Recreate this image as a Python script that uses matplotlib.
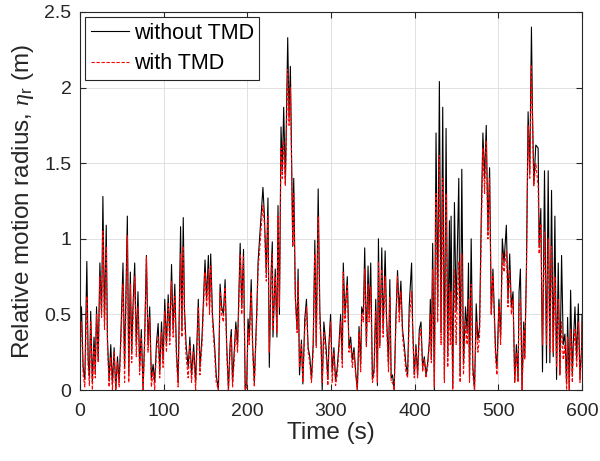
import matplotlib
matplotlib.use("Agg")
import matplotlib.pyplot as plt

plt.rcParams['font.family'] = ['Liberation Sans', 'DejaVu Sans']
plt.rcParams['mathtext.fontset'] = 'custom'
plt.rcParams['mathtext.it'] = 'Liberation Serif:italic'
plt.rcParams['mathtext.rm'] = 'Liberation Sans'

# time (s), read at local peaks / troughs of the trace
t_s = [0, 2, 4, 6, 8.4, 10, 11.5, 13, 15, 17, 18.5, 20, 22, 24, 26, 27.6, 29.5, 31.6, 33, 35,
       37, 39, 41, 43, 45, 47, 49, 51.6, 53.5, 56.8, 58.5, 60.4, 62, 63.5, 65.6, 67.5, 69.5, 71.5, 73.5, 75.6,
       77.5, 79.6, 81.5, 83.5, 85.5, 87.6, 89.5, 91.5, 93.6, 95.5, 97.6, 99.5, 101.5, 103.5, 105.6, 107.5, 109.6, 111.5, 113.5, 115.5,
       117.5, 120.4, 122, 123.6, 125, 127, 129.5, 131.5, 133.5, 136, 138.4, 141.6, 143.5, 146, 149.6, 151.5, 153.6, 155, 156.4, 158.5,
       161, 163, 165.6, 167.6, 169.5, 171.5, 173.6, 175.5, 177.6, 179.5, 181, 182.5, 184, 186.4, 188.5, 191.6, 193.5, 195.6, 197.6, 199.5,
       201, 202.5, 204.8, 206.5, 208.5, 211.6, 213, 214.8, 216.8, 218.8, 220.5, 222.8, 224.8, 226.4, 228.5, 230, 230.8, 233.5, 235.5, 236.8,
       238.5, 240.4, 242, 243.6, 245.6, 248.4, 250, 251.6, 253, 254.4, 255.6, 257.5, 259.6, 260.8, 262.5, 264.8, 266.5, 268.8, 270.8, 272.8,
       274.8, 276.8, 278.8, 280.8, 282.5, 284.8, 286.8, 288.4, 289.6, 291.6, 294.4, 296.4, 297.6, 299.6, 301.6, 303.6, 305.6, 307.6, 309.6, 311.6,
       313.6, 314.8, 316.8, 319.6, 321.6, 323.6, 325.6, 327.6, 329.6, 331.6, 333.6, 335.6, 336.8, 338.8, 340.4, 342.4, 344.4, 345.6, 347.6, 349.6,
       351.6, 353.6, 355.6, 356.8, 358.4, 360.8, 362.4, 364.8, 366.4, 368.8, 370.4, 372, 373.6, 375.6, 377.6, 379.6, 381.6, 383.6, 385.6, 387.6,
       389.6, 391.6, 393.6, 396.4, 397.6, 399.6, 401.6, 403.6, 405.6, 407.6, 409.6, 411.6, 413.6, 415.6, 417.6, 418.8, 420, 421.6, 423.6, 425.6,
       427.6, 429.6, 431.6, 433.6, 435.6, 437.6, 439.6, 441.6, 442.6, 443.6, 445.6, 447.6, 449.6, 451, 452.8, 454.4, 456.4, 458.4, 460.8, 462.8,
       464.4, 465.6, 467.6, 469.6, 471.6, 473.6, 475.6, 477.6, 479.6, 481.6, 483.6, 485.6, 487.6, 489.6, 491.6, 493.6, 495.6, 496.8, 498.4, 500.8,
       502.8, 504.8, 506.8, 509.6, 511.6, 513.6, 515.6, 517.6, 519.6, 521.6, 523.6, 524.8, 526.4, 528.4, 530.4, 531.6, 533.6, 535.6, 537.6, 539.6,
       540.8, 542.4, 544.8, 547.6, 548.8, 550.8, 552.8, 555.2, 557.6, 559.6, 561.6, 563.6, 565.6, 567.6, 569.6, 571.6, 573.6, 575.6, 577.6, 579.6,
       581.6, 582.8, 584.8, 586.4, 588.4, 589.6, 591.6, 593.6, 595.6, 597.6, 599.6, 600]

eta_without = [0.35, 0.55, 0.15, 0.07, 0.85, 0.20, 0.08, 0.52, 0.05, 0.35, 0.12, 0.55, 0.20, 0.84, 0.50, 1.28, 0.45, 1.09, 0.35, 0.06,
               0.30, 0.04, 0.28, 0.00, 0.22, 0.05, 0.35, 0.84, 0.15, 1.15, 0.10, 0.78, 0.25, 0.55, 0.84, 0.30, 0.65, 0.15, 0.40, 0.00,
               0.35, 0.89, 0.30, 0.55, 0.08, 0.17, 0.05, 0.30, 0.44, 0.12, 0.45, 0.20, 0.60, 0.30, 0.63, 0.35, 0.83, 0.40, 0.70, 0.25,
               0.05, 1.08, 0.40, 1.14, 0.55, 0.30, 0.15, 0.35, 0.10, 0.30, 0.05, 0.60, 0.15, 0.35, 0.86, 0.60, 0.89, 0.55, 0.90, 0.50,
               0.30, 0.10, 0.00, 0.70, 0.55, 0.50, 0.73, 0.30, 0.00, 0.30, 0.40, 0.05, 0.20, 0.45, 0.30, 0.97, 0.55, 0.93, 0.00, 0.05,
               0.47, 0.35, 0.73, 0.30, 0.05, 0.55, 0.85, 1.00, 1.16, 1.34, 1.16, 0.77, 1.27, 0.15, 0.77, 0.98, 0.35, 0.80, 0.35, 1.22,
               0.50, 1.74, 1.45, 1.87, 1.36, 2.33, 1.80, 2.14, 1.55, 0.95, 1.40, 0.62, 0.40, 0.80, 0.10, 0.33, 0.04, 0.47, 0.60, 0.28,
               0.22, 0.07, 0.30, 0.99, 0.30, 1.33, 0.52, 0.30, 0.00, 0.45, 0.27, 0.07, 0.30, 0.50, 0.12, 0.28, 0.06, 0.15, 0.30, 0.50,
               0.20, 0.84, 0.50, 0.75, 0.28, 0.35, 0.20, 0.28, 0.12, 0.00, 0.42, 0.17, 0.55, 0.50, 0.94, 0.30, 0.82, 0.50, 0.84, 0.07,
               0.14, 0.60, 0.03, 1.00, 0.30, 0.94, 0.40, 0.92, 0.50, 0.17, 0.73, 0.08, 0.10, 0.00, 0.47, 0.79, 0.52, 0.72, 0.40, 0.30,
               0.17, 0.10, 0.56, 0.84, 0.45, 0.10, 0.30, 0.10, 0.40, 0.45, 0.15, 0.22, 0.10, 0.18, 0.32, 0.60, 0.20, 0.97, 0.00, 1.70,
               0.55, 2.04, 0.38, 1.87, 0.07, 1.73, 0.22, 1.12, 0.40, 1.15, 0.02, 1.24, 0.52, 0.90, 1.40, 0.10, 1.46, 0.17, 0.55, 0.38,
               0.84, 0.08, 1.00, 0.15, 0.00, 0.57, 0.33, 0.42, 1.13, 1.70, 1.40, 1.75, 1.05, 1.47, 0.50, 0.80, 0.45, 0.25, 0.15, 0.60,
               0.35, 1.00, 0.84, 1.09, 0.60, 0.90, 0.55, 0.65, 0.05, 0.30, 0.07, 0.65, 0.80, 0.00, 0.45, 0.22, 0.80, 1.84, 1.44, 2.40,
               1.85, 1.36, 1.62, 1.60, 0.95, 1.20, 0.12, 1.45, 0.18, 1.45, 0.18, 1.32, 0.22, 1.15, 0.07, 0.84, 0.10, 0.89, 0.30, 0.37,
               0.04, 0.48, 0.00, 0.66, 0.10, 0.30, 0.55, 0.20, 0.57, 0.07, 0.30, 0.50]

eta_with = [0.30, 0.45, 0.10, 0.02, 0.62, 0.15, 0.03, 0.45, 0.00, 0.28, 0.08, 0.50, 0.18, 0.75, 0.48, 1.05, 0.40, 0.95, 0.30, 0.02,
            0.22, 0.00, 0.25, 0.00, 0.18, 0.02, 0.30, 0.70, 0.05, 1.02, 0.05, 0.70, 0.18, 0.45, 0.75, 0.22, 0.55, 0.10, 0.35, 0.00,
            0.30, 0.88, 0.25, 0.48, 0.02, 0.12, 0.00, 0.25, 0.35, 0.08, 0.38, 0.15, 0.52, 0.25, 0.58, 0.30, 0.72, 0.35, 0.62, 0.20,
            0.02, 0.90, 0.35, 0.95, 0.50, 0.22, 0.08, 0.30, 0.05, 0.25, 0.00, 0.55, 0.10, 0.30, 0.78, 0.55, 0.80, 0.50, 0.82, 0.45,
            0.25, 0.05, 0.00, 0.65, 0.50, 0.45, 0.68, 0.25, 0.00, 0.25, 0.35, 0.02, 0.15, 0.40, 0.25, 0.90, 0.50, 0.88, 0.00, 0.02,
            0.40, 0.30, 0.65, 0.25, 0.02, 0.50, 0.80, 0.92, 1.08, 1.22, 1.10, 0.72, 1.15, 0.25, 0.70, 0.90, 0.40, 0.75, 0.38, 1.15,
            0.55, 1.60, 1.40, 1.65, 1.35, 2.12, 1.75, 2.00, 1.50, 0.95, 1.30, 0.60, 0.38, 0.72, 0.15, 0.30, 0.05, 0.40, 0.55, 0.25,
            0.18, 0.05, 0.25, 0.90, 0.28, 1.15, 0.45, 0.25, 0.05, 0.38, 0.22, 0.03, 0.25, 0.45, 0.05, 0.25, 0.03, 0.10, 0.26, 0.45,
            0.15, 0.78, 0.45, 0.70, 0.25, 0.30, 0.15, 0.25, 0.10, 0.00, 0.38, 0.12, 0.50, 0.45, 0.80, 0.28, 0.70, 0.45, 0.68, 0.05,
            0.10, 0.52, 0.05, 0.85, 0.28, 0.80, 0.35, 0.75, 0.45, 0.12, 0.62, 0.05, 0.05, 0.00, 0.42, 0.75, 0.45, 0.65, 0.35, 0.25,
            0.12, 0.08, 0.45, 0.65, 0.40, 0.08, 0.28, 0.08, 0.35, 0.40, 0.12, 0.20, 0.08, 0.15, 0.30, 0.50, 0.18, 0.80, 0.02, 1.30,
            0.45, 1.55, 0.30, 1.40, 0.05, 1.30, 0.15, 0.70, 0.30, 0.65, 0.00, 0.80, 0.30, 0.60, 0.85, 0.05, 0.90, 0.10, 0.45, 0.30,
            0.60, 0.05, 0.70, 0.10, 0.00, 0.45, 0.25, 0.35, 1.00, 1.60, 1.30, 1.65, 1.00, 1.40, 0.50, 0.75, 0.40, 0.20, 0.10, 0.55,
            0.30, 0.90, 0.78, 0.92, 0.55, 0.80, 0.50, 0.60, 0.05, 0.25, 0.05, 0.55, 0.60, 0.00, 0.40, 0.20, 0.75, 1.75, 1.40, 2.15,
            1.80, 1.35, 1.50, 1.35, 0.90, 1.10, 0.30, 1.05, 0.30, 1.00, 0.25, 0.95, 0.25, 0.75, 0.15, 0.60, 0.10, 0.45, 0.20, 0.30,
            0.00, 0.35, 0.00, 0.40, 0.05, 0.25, 0.40, 0.15, 0.45, 0.05, 0.25, 0.45]

fig = plt.figure(figsize=(6, 4.61), dpi=100)
ax = fig.add_axes([0.133, 0.154, 0.837, 0.820])

ax.plot(t_s, eta_without, color='black', lw=0.8, label='without TMD')
ax.plot(t_s, eta_with, color='red', lw=0.8, ls=(0, (3, 1.5)), label='with TMD')

ax.set_xlim(0, 600)
ax.set_ylim(0, 2.5)
ax.set_xticks([0, 100, 200, 300, 400, 500, 600])
ax.set_yticks([0, 0.5, 1, 1.5, 2, 2.5])
ax.set_yticklabels(['0', '0.5', '1', '1.5', '2', '2.5'])
ax.grid(True, color='#dcdcdc', lw=0.6)
ax.set_axisbelow(True)
ax.tick_params(direction='in', top=True, right=True, labelsize=14, colors='#262626', length=4)
ax.tick_params(axis='x', pad=9)
ax.tick_params(axis='y', pad=6)
for s in ax.spines.values():
    s.set_color('#262626')
    s.set_linewidth(0.8)

ax.set_xlabel('Time (s)', fontsize=17.5, color='#262626', labelpad=2)
ax.set_ylabel(r'Relative motion radius, $\eta_{\rm r}$ (m)', fontsize=17.5, color='#262626', labelpad=6)

leg = ax.legend(loc='upper left', fontsize=15.5, fancybox=False, framealpha=1,
                edgecolor='#262626', handlelength=1.8, borderaxespad=0.25,
                borderpad=0.25, labelspacing=0.45, handletextpad=0.2)
leg.get_frame().set_linewidth(0.8)

fig.savefig('out.png', dpi=100)
